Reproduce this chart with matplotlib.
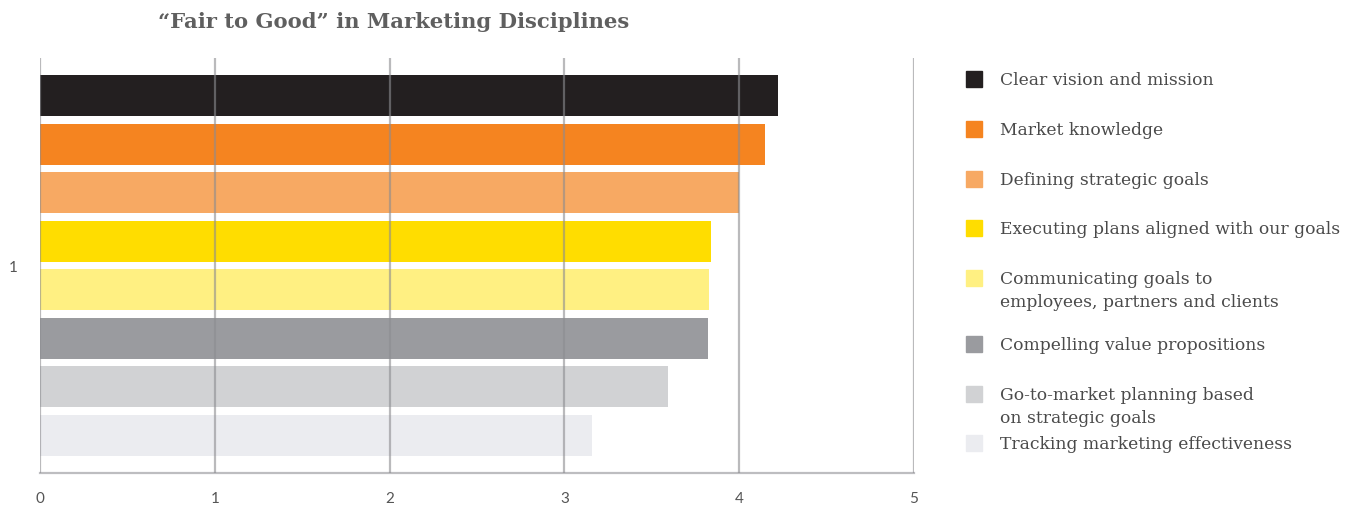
import matplotlib
matplotlib.use("Agg")
import matplotlib.pyplot as plt
from matplotlib.patches import Rectangle

category = ["1"]
series = [
    "Clear vision and mission",
    "Market knowledge",
    "Defining strategic goals",
    "Executing plans aligned with our goals",
    "Communicating goals to\nemployees, partners and clients",
    "Compelling value propositions",
    "Go-to-market planning based\non strategic goals",
    "Tracking marketing effectiveness",
]
values = [4.22, 4.15, 4.00, 3.84, 3.83, 3.82, 3.59, 3.16]
colors = ["#231f20", "#f58420", "#f7a963", "#ffdd00", "#fff082",
          "#9a9b9f", "#d1d2d4", "#ebecf0"]
xticks = [0, 1, 2, 3, 4, 5]

W, H = 1354, 506
fig = plt.figure(figsize=(W / 100, H / 100), dpi=100)
ax = fig.add_axes([40 / W, 1 - 474 / H, (914 - 40) / W, (474 - 59) / H])

n = len(series)
bar_h = 0.85
pos = list(range(n))
for i, (v, c) in enumerate(zip(values, colors)):
    ax.barh(pos[i], v, height=bar_h, color=c, zorder=2)

ax.set_xlim(0, 5)
ax.set_ylim(n - 0.5 + 0.28, -0.5 - 0.28)
ax.set_xticks(xticks)
ax.set_xticklabels([str(t) for t in xticks], fontsize=11, color="#555555",
                   family="Lato")
ax.set_yticks([(n - 1) / 2])
ax.set_yticklabels(category, fontsize=11, color="#555555", family="Lato")
ax.tick_params(axis="both", length=0)
ax.tick_params(axis="x", pad=13)
ax.tick_params(axis="y", pad=16)
for x in xticks:
    ax.axvline(x, color="#8c8c90", alpha=0.6, lw=1.6, zorder=3)
for s in ["top", "right", "left"]:
    ax.spines[s].set_visible(False)
ax.spines["bottom"].set_color("#bdbdc0")
ax.spines["bottom"].set_linewidth(1.6)

fig.text(394 / W, 1 - 22 / H, "\u201cFair to Good\u201d in Marketing Disciplines",
         ha="center", va="center", fontsize=15.2, fontweight="bold",
         family="DejaVu Serif", color="#5f5f5f")

# legend (manual layout)
legend_y = [80, 130, 180, 229, 279, 345, 395, 444]
line_step = 23
for lab, c, y in zip(series, colors, legend_y):
    fig.patches.append(Rectangle((966 / W, 1 - (y + 8) / H), 16 / W, 16 / H,
                                 transform=fig.transFigure, color=c))
    for k, line in enumerate(lab.split("\n")):
        fig.text(1000 / W, 1 - (y + 5 + k * line_step) / H, line, ha="left",
                 va="baseline", fontsize=12.3, family="DejaVu Serif",
                 color="#4a4a4a")

fig.savefig("out.png", dpi=100)
